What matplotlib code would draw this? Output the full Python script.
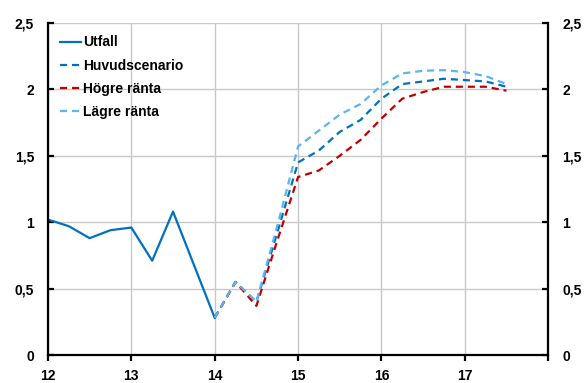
import matplotlib.pyplot as plt
from matplotlib.ticker import FixedLocator, FuncFormatter

plt.rcParams['font.family'] = ['Liberation Sans', 'DejaVu Sans']
plt.rcParams['font.weight'] = 'bold'

# Utfall (quarterly)
utfall_x = [12.0, 12.25, 12.5, 12.75, 13.0, 13.25, 13.5, 13.75, 14.0]
utfall_y = [1.02, 0.97, 0.88, 0.94, 0.96, 0.71, 1.08, 0.68, 0.28]

# forecasts
prog_x = [14.0, 14.25, 14.5, 14.75, 15.0, 15.25, 15.5, 15.75, 16.0,
          16.25, 16.5, 16.75, 17.0, 17.25, 17.5]
huvud_y = [0.28, 0.55, 0.40, 0.92, 1.45, 1.54, 1.68, 1.77, 1.93,
           2.04, 2.06, 2.08, 2.07, 2.06, 2.02]
hogre_y = [0.28, 0.55, 0.37, 0.86, 1.34, 1.39, 1.50, 1.62, 1.78,
           1.93, 1.98, 2.02, 2.02, 2.02, 1.99]
lagre_y = [0.28, 0.55, 0.40, 0.97, 1.57, 1.69, 1.81, 1.89, 2.03,
           2.12, 2.14, 2.145, 2.13, 2.10, 2.04]

x_ticks = [12, 13, 14, 15, 16, 17, 18]
y_ticks = [0, 0.5, 1, 1.5, 2, 2.5]

fig = plt.figure(figsize=(5.85, 3.83), dpi=100)
ax = fig.add_axes([0.082, 0.073, 0.855, 0.867])

blue = '#0070c0'
dash = (0, (3.2, 2.2))
ax.plot(utfall_x, utfall_y, color=blue, lw=1.6, label='Utfall')
ax.plot(prog_x, huvud_y, color=blue, lw=1.6, ls=dash, label='Huvudscenario')
ax.plot(prog_x, hogre_y, color='#c00000', lw=1.6, ls=dash, label='Högre ränta')
ax.plot(prog_x, lagre_y, color='#5cb5ef', lw=1.6, ls=dash, label='Lägre ränta')

ax.set_xlim(12, 18)
ax.set_ylim(0, 2.5)
ax.xaxis.set_major_locator(FixedLocator(x_ticks))
ax.yaxis.set_major_locator(FixedLocator(y_ticks))

def fmt_y(v, pos):
    return ('%g' % v).replace('.', ',')

def fmt_x(v, pos):
    return '' if v == 18 else '%d' % v

ax.xaxis.set_major_formatter(FuncFormatter(fmt_x))
ax.yaxis.set_major_formatter(FuncFormatter(fmt_y))
ax.grid(True, color='#c8c8c8', lw=1.0)
ax.set_axisbelow(True)

for s in ['left', 'right', 'bottom']:
    ax.spines[s].set_linewidth(1.6)
    ax.spines[s].set_color('black')
ax.spines['top'].set_visible(False)

ax.tick_params(axis='y', direction='in', length=4, width=1.6, labelsize=10,
               left=True, right=True, labelleft=True, labelright=True, pad=10)
ax.tick_params(axis='x', direction='out', length=4, width=1.6, labelsize=10, pad=6)

leg = ax.legend(loc='upper left', frameon=False, handlelength=1.5,
                handletextpad=0.1, labelspacing=0.65, fontsize=10,
                borderaxespad=0.5)
for t in leg.get_texts():
    t.set_fontweight('bold')

fig.savefig('out.png', dpi=100)
